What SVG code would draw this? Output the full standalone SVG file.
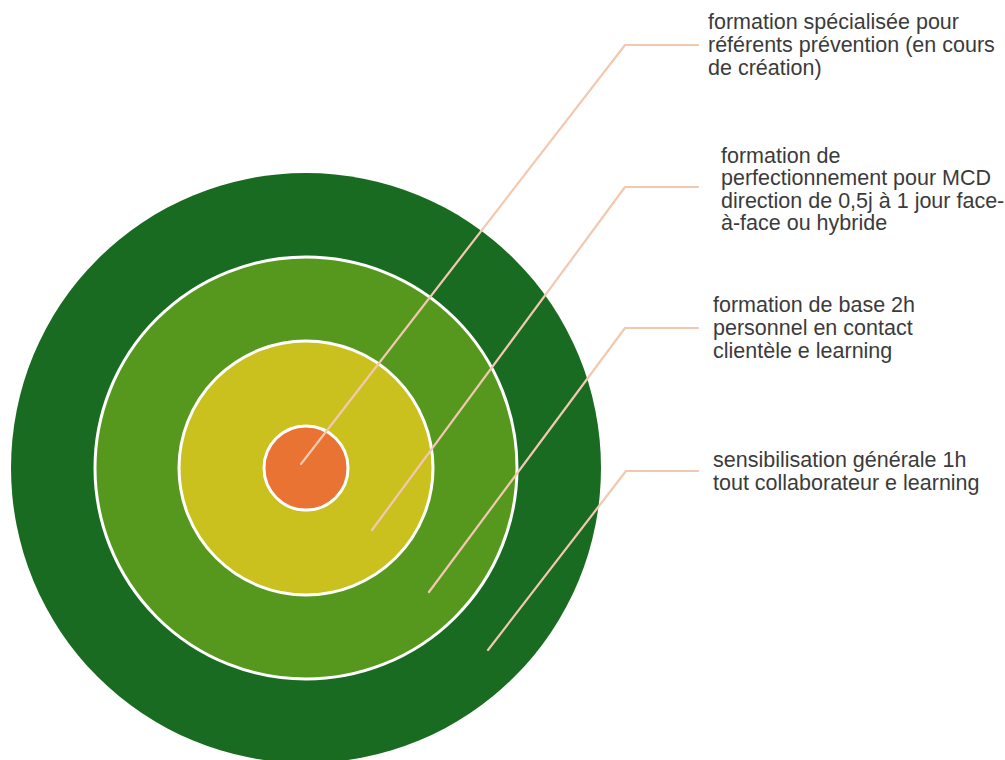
<svg xmlns="http://www.w3.org/2000/svg" width="1005" height="760" viewBox="0 0 1005 760">
<style>
.ring{stroke:#ffffff;stroke-width:3}
.lead{fill:none;stroke:#f3c8b0;stroke-width:2.2;stroke-linecap:round;stroke-linejoin:round}
.lbl{font-family:"Liberation Sans",Arial,sans-serif;font-size:21.5px;fill:#3b3b3b}
</style>
<rect width="1005" height="760" fill="#ffffff"/>
<g id="ring-outer"><circle cx="306" cy="468" r="295" fill="#1a6b22"/></g>
<g id="ring-base"><circle class="ring" cx="306" cy="468" r="211" fill="#56981d"/></g>
<g id="ring-perfectionnement"><circle class="ring" cx="306" cy="468" r="127" fill="#cac11f"/></g>
<g id="ring-center"><circle class="ring" cx="306" cy="468" r="42" fill="#e97332"/></g>
<g id="connectors">
<polyline class="lead" points="301,464 625,45 698,45"/>
<polyline class="lead" points="372,530 625,187 698,187"/>
<polyline class="lead" points="429,592 625,328 698,328"/>
<polyline class="lead" points="488,650 626,471 698,471"/>
</g>
<g id="label-specialisee">
<text class="lbl" x="708" y="29">formation spécialisée pour</text>
<text class="lbl" x="708" y="52">référents prévention (en cours</text>
<text class="lbl" x="708" y="75">de création)</text>
</g>
<g id="label-perfectionnement">
<text class="lbl" x="721" y="163">formation de</text>
<text class="lbl" x="721" y="185">perfectionnement pour MCD</text>
<text class="lbl" x="721" y="208">direction de 0,5j à 1 jour face-</text>
<text class="lbl" x="721" y="230">à-face ou hybride</text>
</g>
<g id="label-base">
<text class="lbl" x="713" y="312">formation de base 2h</text>
<text class="lbl" x="713" y="335">personnel en contact</text>
<text class="lbl" x="713" y="358">clientèle e learning</text>
</g>
<g id="label-sensibilisation">
<text class="lbl" x="713" y="467">sensibilisation générale 1h</text>
<text class="lbl" x="713" y="490">tout collaborateur e learning</text>
</g>
</svg>
